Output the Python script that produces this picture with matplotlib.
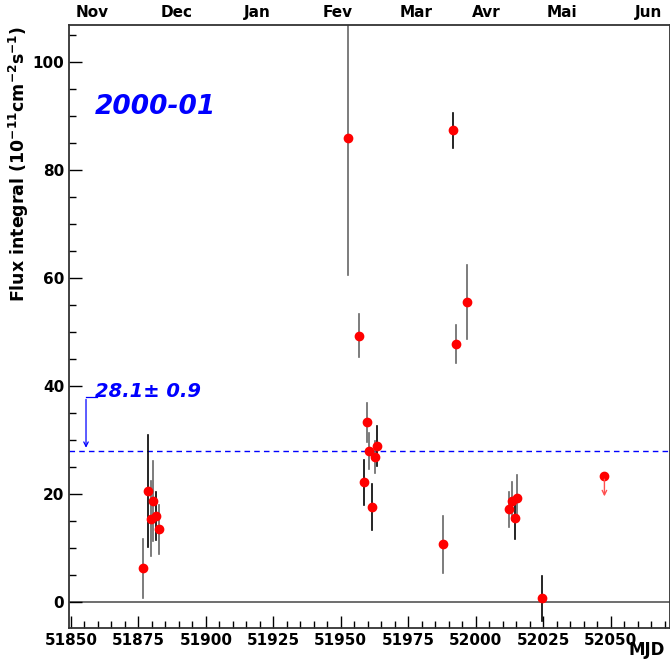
import matplotlib
matplotlib.use('Agg')
import matplotlib.pyplot as plt
from matplotlib.ticker import MultipleLocator
import numpy as np

# data
mjd = [51876.8, 51878.6, 51880.5, 51879.5, 51881.6, 51882.6,
       51952.6, 51956.7, 51959.6, 51960.6, 51963.6, 51962.6, 51958.6, 51961.6,
       51991.6, 51996.7, 51992.6, 51987.7,
       52012.5, 52013.5, 52015.4, 52014.6, 52024.7]
flux = [6.3, 20.6, 18.8, 15.5, 16.0, 13.5,
        86.0, 49.4, 33.3, 28.0, 29.0, 26.9, 22.2, 17.6,
        87.4, 55.6, 47.8, 10.7,
        17.2, 18.8, 19.3, 15.6, 0.7]
err = [5.5, 10.4, 7.4, 7.0, 4.4, 4.5,
       25.3, 4.0, 3.7, 3.3, 3.7, 3.0, 4.1, 4.3,
       3.3, 6.8, 3.5, 5.3,
       3.2, 3.5, 4.2, 3.9, 4.2]
bar_col = ['#666666', 'k', '#666666', '#666666', 'k', '#666666',
           '#666666', '#666666', '#666666', '#666666', 'k', '#666666', 'k', 'k',
           'k', '#666666', '#666666', '#666666',
           '#666666', '#666666', '#666666', 'k', 'k']

# upper limit
ul_mjd = 52047.7
ul_flux = 23.3

mean_flux = 28.1
mean_err = 0.9

months = ['Nov', 'Dec', 'Jan', 'Fev', 'Mar', 'Avr', 'Mai', 'Jun']
month_pos = [51858, 51889, 51919, 51949, 51978, 52004, 52032, 52064]

plt.rcParams['font.family'] = 'DejaVu Sans'
plt.rcParams['font.weight'] = 'bold'

fig = plt.figure(figsize=(6.7, 6.64), dpi=100)
ax = fig.add_axes([0.103, 0.054, 0.897, 0.908])

ax.set_xlim(51849.3, 52072)
ax.set_ylim(-4.8, 106.9)

ax.axhline(0, color='#555555', lw=1.2, zorder=1)
ax.axhline(mean_flux, color='blue', ls=(0, (4, 3)), lw=1, zorder=1)

for x, y, e, c in zip(mjd, flux, err, bar_col):
    ax.plot([x, x], [y - e, y + e], color=c, lw=1.2, zorder=2)
ax.plot(mjd, flux, 'o', color='red', ms=6, zorder=3)

# upper limit arrow
ax.plot(ul_mjd, ul_flux, 'o', color='red', ms=6, zorder=3)
ax.annotate('', xy=(ul_mjd, ul_flux - 4.2), xytext=(ul_mjd, ul_flux),
            arrowprops=dict(arrowstyle='->', color='#ff5050', lw=1.0,
                            mutation_scale=8))

# mean value label with arrow
ax.plot([51859.6, 51855.6], [38.1, 38.1], color='blue', lw=0.9)
ax.annotate('', xy=(51855.6, mean_flux), xytext=(51855.6, 38.1),
            arrowprops=dict(arrowstyle='->', color='blue', lw=0.9,
                            mutation_scale=8))
ax.text(51859.0, 39.0, f'{mean_flux}\u00b1 {mean_err}', color='blue',
        fontsize=14, fontweight='bold', style='italic', va='center', ha='left')

ax.text(51859.0, 91.7, '2000-01', color='blue', fontsize=19,
        fontweight='bold', style='italic', va='center', ha='left')

ax.xaxis.set_major_locator(MultipleLocator(25))
ax.xaxis.set_minor_locator(MultipleLocator(5))
ax.yaxis.set_major_locator(MultipleLocator(20))
ax.yaxis.set_minor_locator(MultipleLocator(5))
ax.tick_params(which='both', direction='in', top=False, right=False,
               labelsize=11, width=1)
ax.tick_params(which='major', length=9)
ax.tick_params(which='minor', length=5)
for lab in ax.get_xticklabels() + ax.get_yticklabels():
    lab.set_fontweight('bold')

for s in ax.spines.values():
    s.set_linewidth(1.3)
    s.set_color('#333333')

ax.set_ylabel(r'Flux integral (10$^{\mathbf{-11}}$cm$^{\mathbf{-2}}$s$^{\mathbf{-1}}$)',
              fontsize=12.5, fontweight='bold')
ax.yaxis.set_label_coords(-0.064, 0.77)
ax.set_xlabel('MJD', fontsize=12, fontweight='bold')
ax.xaxis.set_label_coords(0.962, -0.022)

top = ax.secondary_xaxis('top')
top.set_xticks(month_pos)
top.set_xticklabels(months, fontsize=11, fontweight='bold')
top.tick_params(length=0, pad=4)
top.spines['top'].set_visible(False)

fig.savefig('out.png', dpi=100)
